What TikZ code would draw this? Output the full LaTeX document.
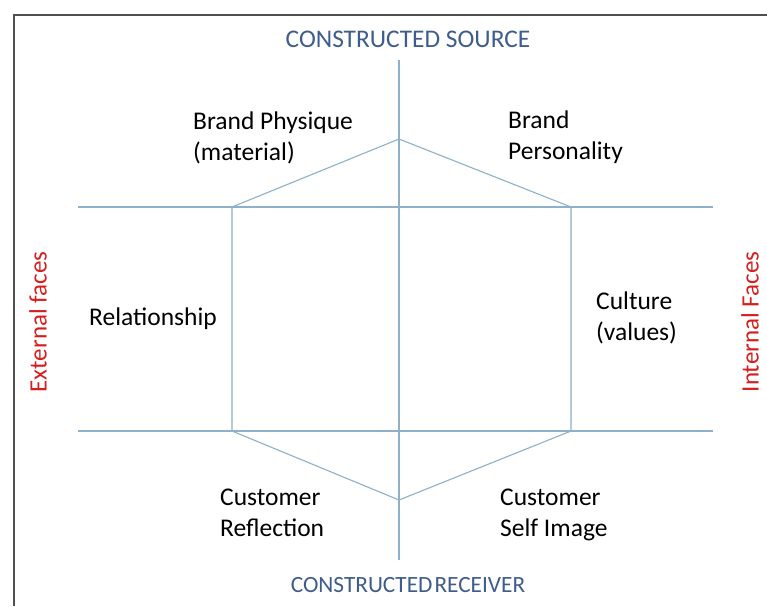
\documentclass[tikz,border=0pt]{standalone}
\usepackage{fontspec}
\setmainfont{Carlito}
\definecolor{hexline}{RGB}{142,176,202}
\definecolor{titleblue}{RGB}{62,92,140}
\definecolor{facered}{RGB}{214,30,30}
\definecolor{framegray}{RGB}{80,80,80}
\begin{document}
\begin{tikzpicture}[x=1pt,y=-1pt,
  hexl/.style={draw=hexline,line width=1.1pt},
  lbl/.style={align=left,anchor=base west,inner sep=0pt,font=\fontsize{25.5}{31}\selectfont,text=black},
  ttl/.style={inner sep=0pt,anchor=base,text=titleblue},
  face/.style={inner sep=0pt,rotate=90,font=\fontsize{25}{28}\selectfont,text=facered}]
\useasboundingbox (0,0) rectangle (767,606);
\fill[white] (0,0) rectangle (767,606);
\draw[framegray,line width=2pt] (14,606) -- (14,15) -- (767,15);
% axes
\coordinate (vtop) at (399,60);
\coordinate (vbot) at (399,560);
\coordinate (h1l) at (78,207);
\coordinate (h1r) at (713,207);
\coordinate (h2l) at (78,431);
\coordinate (h2r) at (713,431);
\draw[hexl] (vtop) -- (vbot);
\draw[hexl] (h1l) -- (h1r);
\draw[hexl] (h2l) -- (h2r);
% hexagon
\coordinate (pt) at (399,139);
\coordinate (pur) at (571,207);
\coordinate (plr) at (571,431);
\coordinate (pb) at (399,500);
\coordinate (pll) at (232,431);
\coordinate (pul) at (232,207);
\draw[hexl,line join=miter] (pt) -- (pur) -- (plr) -- (pb) -- (pll) -- (pul) -- cycle;
% titles
\node[ttl,font=\fontsize{25.4}{28}\selectfont] (src) at (408,47) {CONSTRUCTED SOURCE};
\node[ttl,font=\fontsize{23.3}{28}\selectfont] (rcv) at (408,592) {{\spaceskip=2pt CONSTRUCTED RECEIVER}};
\node[face] (ext) at (38,322) {External faces};
\node[face] (int) at (750,322) {Internal Faces};
% labels (base anchor = baseline of last line)
\node[lbl] (phys) at (193,160) {Brand Physique\\(material)};
\node[lbl] (pers) at (508,159) {Brand\\Personality};
\node[lbl] (rel) at (89,325) {Relationship};
\node[lbl] (cult) at (596,340) {Culture\\(values)};
\node[lbl] (refl) at (220,536) {Customer\\Reflection};
\node[lbl] (self) at (500,536) {Customer\\Self Image};
\end{tikzpicture}
\end{document}
